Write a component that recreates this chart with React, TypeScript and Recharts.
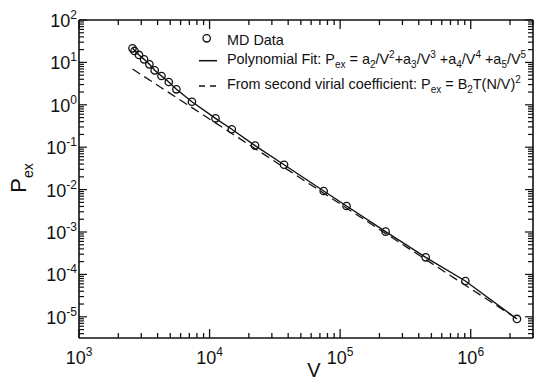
import React from 'react';
import {
  ComposedChart,
  Scatter,
  Line,
  XAxis,
  YAxis,
  Legend,
  ReferenceLine,
} from 'recharts';

// MD simulation points (V, P_ex)
const mdV = [2570, 2660, 2880, 3150, 3460, 3800, 4280, 4870, 5570, 7330, 11100, 14800, 22300, 37200, 74800, 112000, 223000, 452000, 910000, 2260000];
const mdP = [21.5, 18.6, 15.0, 11.8, 9.0, 6.5, 4.78, 3.45, 2.32, 1.18, 0.48, 0.265, 0.109, 0.0386, 0.00927, 0.0041, 0.00102, 0.000253, 0.0000698, 0.0000089];

// polynomial fit curve
const fitV = [2570, 2880, 3150, 3460, 3800, 4280, 4870, 5570, 7330, 11100, 14800, 22300, 37200, 74800, 112000, 223000, 452000, 910000, 2260000];
const fitP = [21.5, 15.0, 11.8, 9.0, 6.5, 4.78, 3.45, 2.32, 1.18, 0.48, 0.265, 0.109, 0.0386, 0.00927, 0.0041, 0.00102, 0.000253, 0.0000698, 0.0000089];

// second virial coefficient line
const b2V = [2570, 2260000];
const b2P = [6.98, 0.0000090];

const xMajor = [1e3, 1e4, 1e5, 1e6];
const yMajor = [1e-6, 1e-5, 1e-4, 1e-3, 1e-2, 1e-1, 1, 10, 100];
const minorSteps = [2, 3, 4, 5, 6, 7, 8, 9];

const X_DOMAIN: [number, number] = [1e3, 3e6];
const Y_DOMAIN: [number, number] = [Math.pow(10, -5.5), 100];

const within = (v: number, d: [number, number]) => v >= d[0] * 0.999 && v <= d[1] * 1.001;
const xTicks = xMajor
  .flatMap((m) => [m, ...minorSteps.map((s) => s * m)])
  .filter((v) => within(v, X_DOMAIN));
const yTicks = yMajor
  .flatMap((m) => [m, ...minorSteps.map((s) => s * m)])
  .filter((v) => within(v, Y_DOMAIN));

const mdData = mdV.map((v, i) => ({ v, p: mdP[i] }));
const fitData = fitV.map((v, i) => ({ v, p: fitP[i] }));
const b2Data = b2V.map((v, i) => ({ v, p: b2P[i] }));

const W = 535;
const H = 383;
const PLOT_W = 454;
const PLOT_H = 318;
const FONT = '"Liberation Sans", Arial, Helvetica, sans-serif';
const INK = '#111';

const expOf = (v: number) => {
  const l = Math.log10(v);
  const e = Math.round(l);
  return { e, major: Math.abs(l - e) < 1e-6 };
};

const XTick = (props: any) => {
  const { x, y, payload } = props;
  const { e, major } = expOf(payload.value);
  const len = major ? 9 : 5;
  return (
    <g>
      <line x1={x} x2={x} y1={y} y2={y - len} stroke={INK} strokeWidth={1.3} />
      <line x1={x} x2={x} y1={y - PLOT_H} y2={y - PLOT_H + len} stroke={INK} strokeWidth={1.3} />
      {major && (
        <text x={x} y={y + 26} textAnchor="middle" fontSize={18} fontFamily={FONT} fill={INK}>
          10
          <tspan dy={-8} fontSize={12}>{e}</tspan>
        </text>
      )}
    </g>
  );
};

const YTick = (props: any) => {
  const { x, y, payload } = props;
  const { e, major } = expOf(payload.value);
  const len = major ? 8 : 5;
  return (
    <g>
      <line x1={x} x2={x + len} y1={y} y2={y} stroke={INK} strokeWidth={1.2} />
      <line x1={x + PLOT_W} x2={x + PLOT_W - len} y1={y} y2={y} stroke={INK} strokeWidth={1.2} />
      {major && (
        <text x={x - 2} y={y + 7} textAnchor="end" fontSize={18} fontFamily={FONT} fill={INK}>
          10
          <tspan dy={-8} fontSize={12}>{e}</tspan>
        </text>
      )}
    </g>
  );
};

const Circle = (props: any) => (
  <circle cx={props.cx} cy={props.cy} r={3.7} fill="none" stroke={INK} strokeWidth={1.3} />
);

const sub = (t: string) => (
  <span style={{ fontSize: 10, position: 'relative', top: 4 }}>{t}</span>
);
const sup = (t: string) => (
  <span style={{ fontSize: 10, position: 'relative', top: -6 }}>{t}</span>
);

const rowStyle: React.CSSProperties = {
  position: 'absolute',
  left: 31,
  whiteSpace: 'nowrap',
  lineHeight: '16px',
};

const LegendBox = () => (
  <div style={{ position: 'relative', width: 340, height: 70, fontFamily: FONT, fontSize: 14.4, color: INK }}>
    <svg width={30} height={70} style={{ position: 'absolute', left: 0, top: 0 }}>
      <circle cx={10.7} cy={10.3} r={3.7} fill="none" stroke={INK} strokeWidth={1.3} />
      <line x1={3} x2={21} y1={32.7} y2={32.7} stroke={INK} strokeWidth={1.5} />
      <line x1={3} x2={21} y1={58} y2={58} stroke={INK} strokeWidth={1.5} strokeDasharray="6 5" />
    </svg>
    <div style={{ ...rowStyle, top: 4 }}>MD Data</div>
    <div style={{ ...rowStyle, top: 23 }}>
      Polynomial Fit: P{sub('ex')} = a{sub('2')}/V{sup('2')}+a{sub('3')}/V{sup('3')} +a{sub('4')}/V{sup('4')} +a
      {sub('5')}/V{sup('5')}
    </div>
    <div style={{ ...rowStyle, top: 48.3 }}>
      From second virial coefficient: P{sub('ex')} = B{sub('2')}T(N/V){sup('2')}
    </div>
  </div>
);

export default function App() {
  return (
    <div style={{ position: 'fixed', left: 0, top: 0, width: W, height: H, background: '#fff' }}>
      <ComposedChart width={W} height={H} margin={{ top: 20, right: 2, bottom: 0, left: 0 }}>
        <XAxis
          dataKey="v"
          type="number"
          scale="log"
          domain={X_DOMAIN}
          allowDataOverflow
          ticks={xTicks}
          interval={0}
          tick={<XTick />}
          tickLine={false}
          tickSize={0}
          tickMargin={0}
          height={45}
          axisLine={{ stroke: INK, strokeWidth: 1.6 }}
          label={{
            content: () => (
              <text x={314} y={377} textAnchor="middle" fontSize={20} fontFamily={FONT} fill={INK}>
                V
              </text>
            ),
          }}
        />
        <YAxis
          dataKey="p"
          type="number"
          scale="log"
          domain={Y_DOMAIN}
          allowDataOverflow
          ticks={yTicks}
          interval={0}
          tick={<YTick />}
          tickLine={false}
          tickSize={0}
          tickMargin={0}
          width={79}
          axisLine={{ stroke: INK, strokeWidth: 1.6 }}
          label={{
            content: () => (
              <text transform="translate(26,178) rotate(-90)" textAnchor="middle" fontSize={22} fontFamily={FONT} fill={INK}>
                P
                <tspan dy={7} fontSize={14}>ex</tspan>
              </text>
            ),
          }}
        />
        <ReferenceLine y={100} stroke={INK} strokeWidth={1.6} />
        <ReferenceLine x={3e6} stroke={INK} strokeWidth={1.6} />
        <Line
          data={b2Data}
          dataKey="p"
          type="linear"
          stroke={INK}
          strokeWidth={1.3}
          strokeDasharray="9 5"
          dot={false}
          activeDot={false}
          isAnimationActive={false}
        />
        <Line
          data={fitData}
          dataKey="p"
          type="linear"
          stroke={INK}
          strokeWidth={1.4}
          dot={false}
          activeDot={false}
          isAnimationActive={false}
        />
        <Scatter data={mdData} dataKey="p" shape={<Circle />} isAnimationActive={false} />
        <Legend
          layout="horizontal"
          verticalAlign="middle"
          align="center"
          content={() => <LegendBox />}
          wrapperStyle={{ position: 'absolute', top: 28, left: 196, width: 340, height: 70 }}
        />
      </ComposedChart>
    </div>
  );
}
